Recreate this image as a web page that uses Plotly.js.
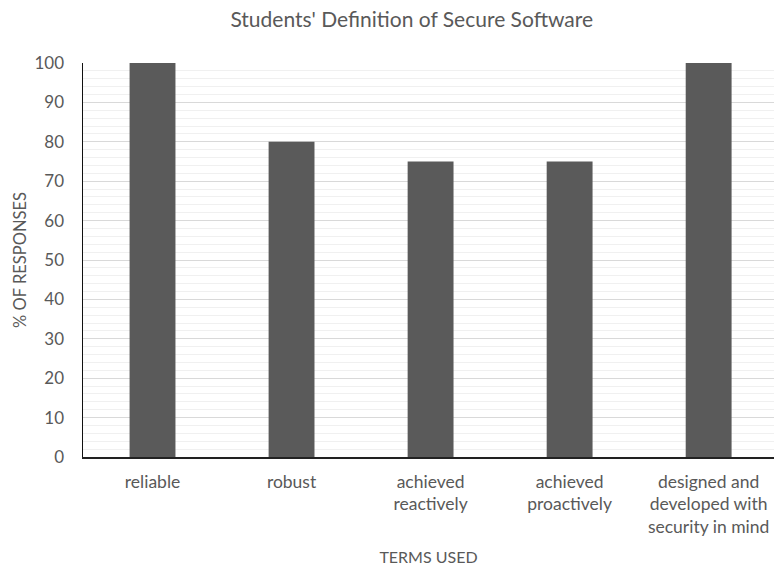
<!DOCTYPE html>
<html>
<head>
<meta charset="utf-8">
<script src="https://cdn.plot.ly/plotly-3.0.1.min.js"></script>
<style>html,body{margin:0;padding:0;background:#fff}#chart{width:774px;height:567px}</style>
</head>
<body>
<div id="chart"></div>
<script>
const categories = ["reliable", "robust", "achieved<br>reactively", "achieved<br>proactively", "designed and<br>developed with<br>security in mind"];
const percentResponses = [100, 80, 75, 75, 100];
const yTicks = [0, 10, 20, 30, 40, 50, 60, 70, 80, 90, 100];

const txt = "#595959";
const fam = "Lato, 'Open Sans', sans-serif";

Plotly.newPlot("chart", [{
  type: "bar",
  x: [0, 1, 2, 3, 4],
  y: percentResponses,
  width: 0.33,
  marker: {color: "#5a5a5a", line: {width: 0}},
  hoverinfo: "none"
}], {
  width: 774, height: 567,
  margin: {l: 83, r: 0, t: 63, b: 110},
  paper_bgcolor: "#fff", plot_bgcolor: "#fff",
  showlegend: false,
  title: {text: "Students' Definition of Secure Software", x: 0.532, xanchor: "center", y: 0.965, yanchor: "middle",
          font: {family: fam, size: 21, color: txt}},
  xaxis: {
    range: [-0.5, 4.47],
    tickmode: "array", tickvals: [0, 1, 2, 3, 4], ticktext: categories,
    tickfont: {family: fam, size: 17.5, color: txt},
    showgrid: false, zeroline: false,
    showline: true, linecolor: "#222", linewidth: 1.5,
    ticks: "", ticklabelstandoff: 8,
    title: {text: "TERMS USED", font: {family: fam, size: 16, color: txt}, standoff: 16}
  },
  yaxis: {
    range: [0, 100],
    tickmode: "array", tickvals: yTicks,
    tickfont: {family: fam, size: 17, color: txt},
    showgrid: true, gridcolor: "#d9d9d9", gridwidth: 1,
    minor: {dtick: 2, showgrid: true, gridcolor: "#f0f0f0", gridwidth: 1},
    zeroline: false,
    showline: true, linecolor: "#111", linewidth: 1.5,
    ticks: "", ticklabelstandoff: 14,
    title: {text: "% OF RESPONSES", font: {family: fam, size: 16.5, color: txt}, standoff: 3}
  },
  font: {family: fam, color: txt}
}, {staticPlot: true});
</script>
</body>
</html>
